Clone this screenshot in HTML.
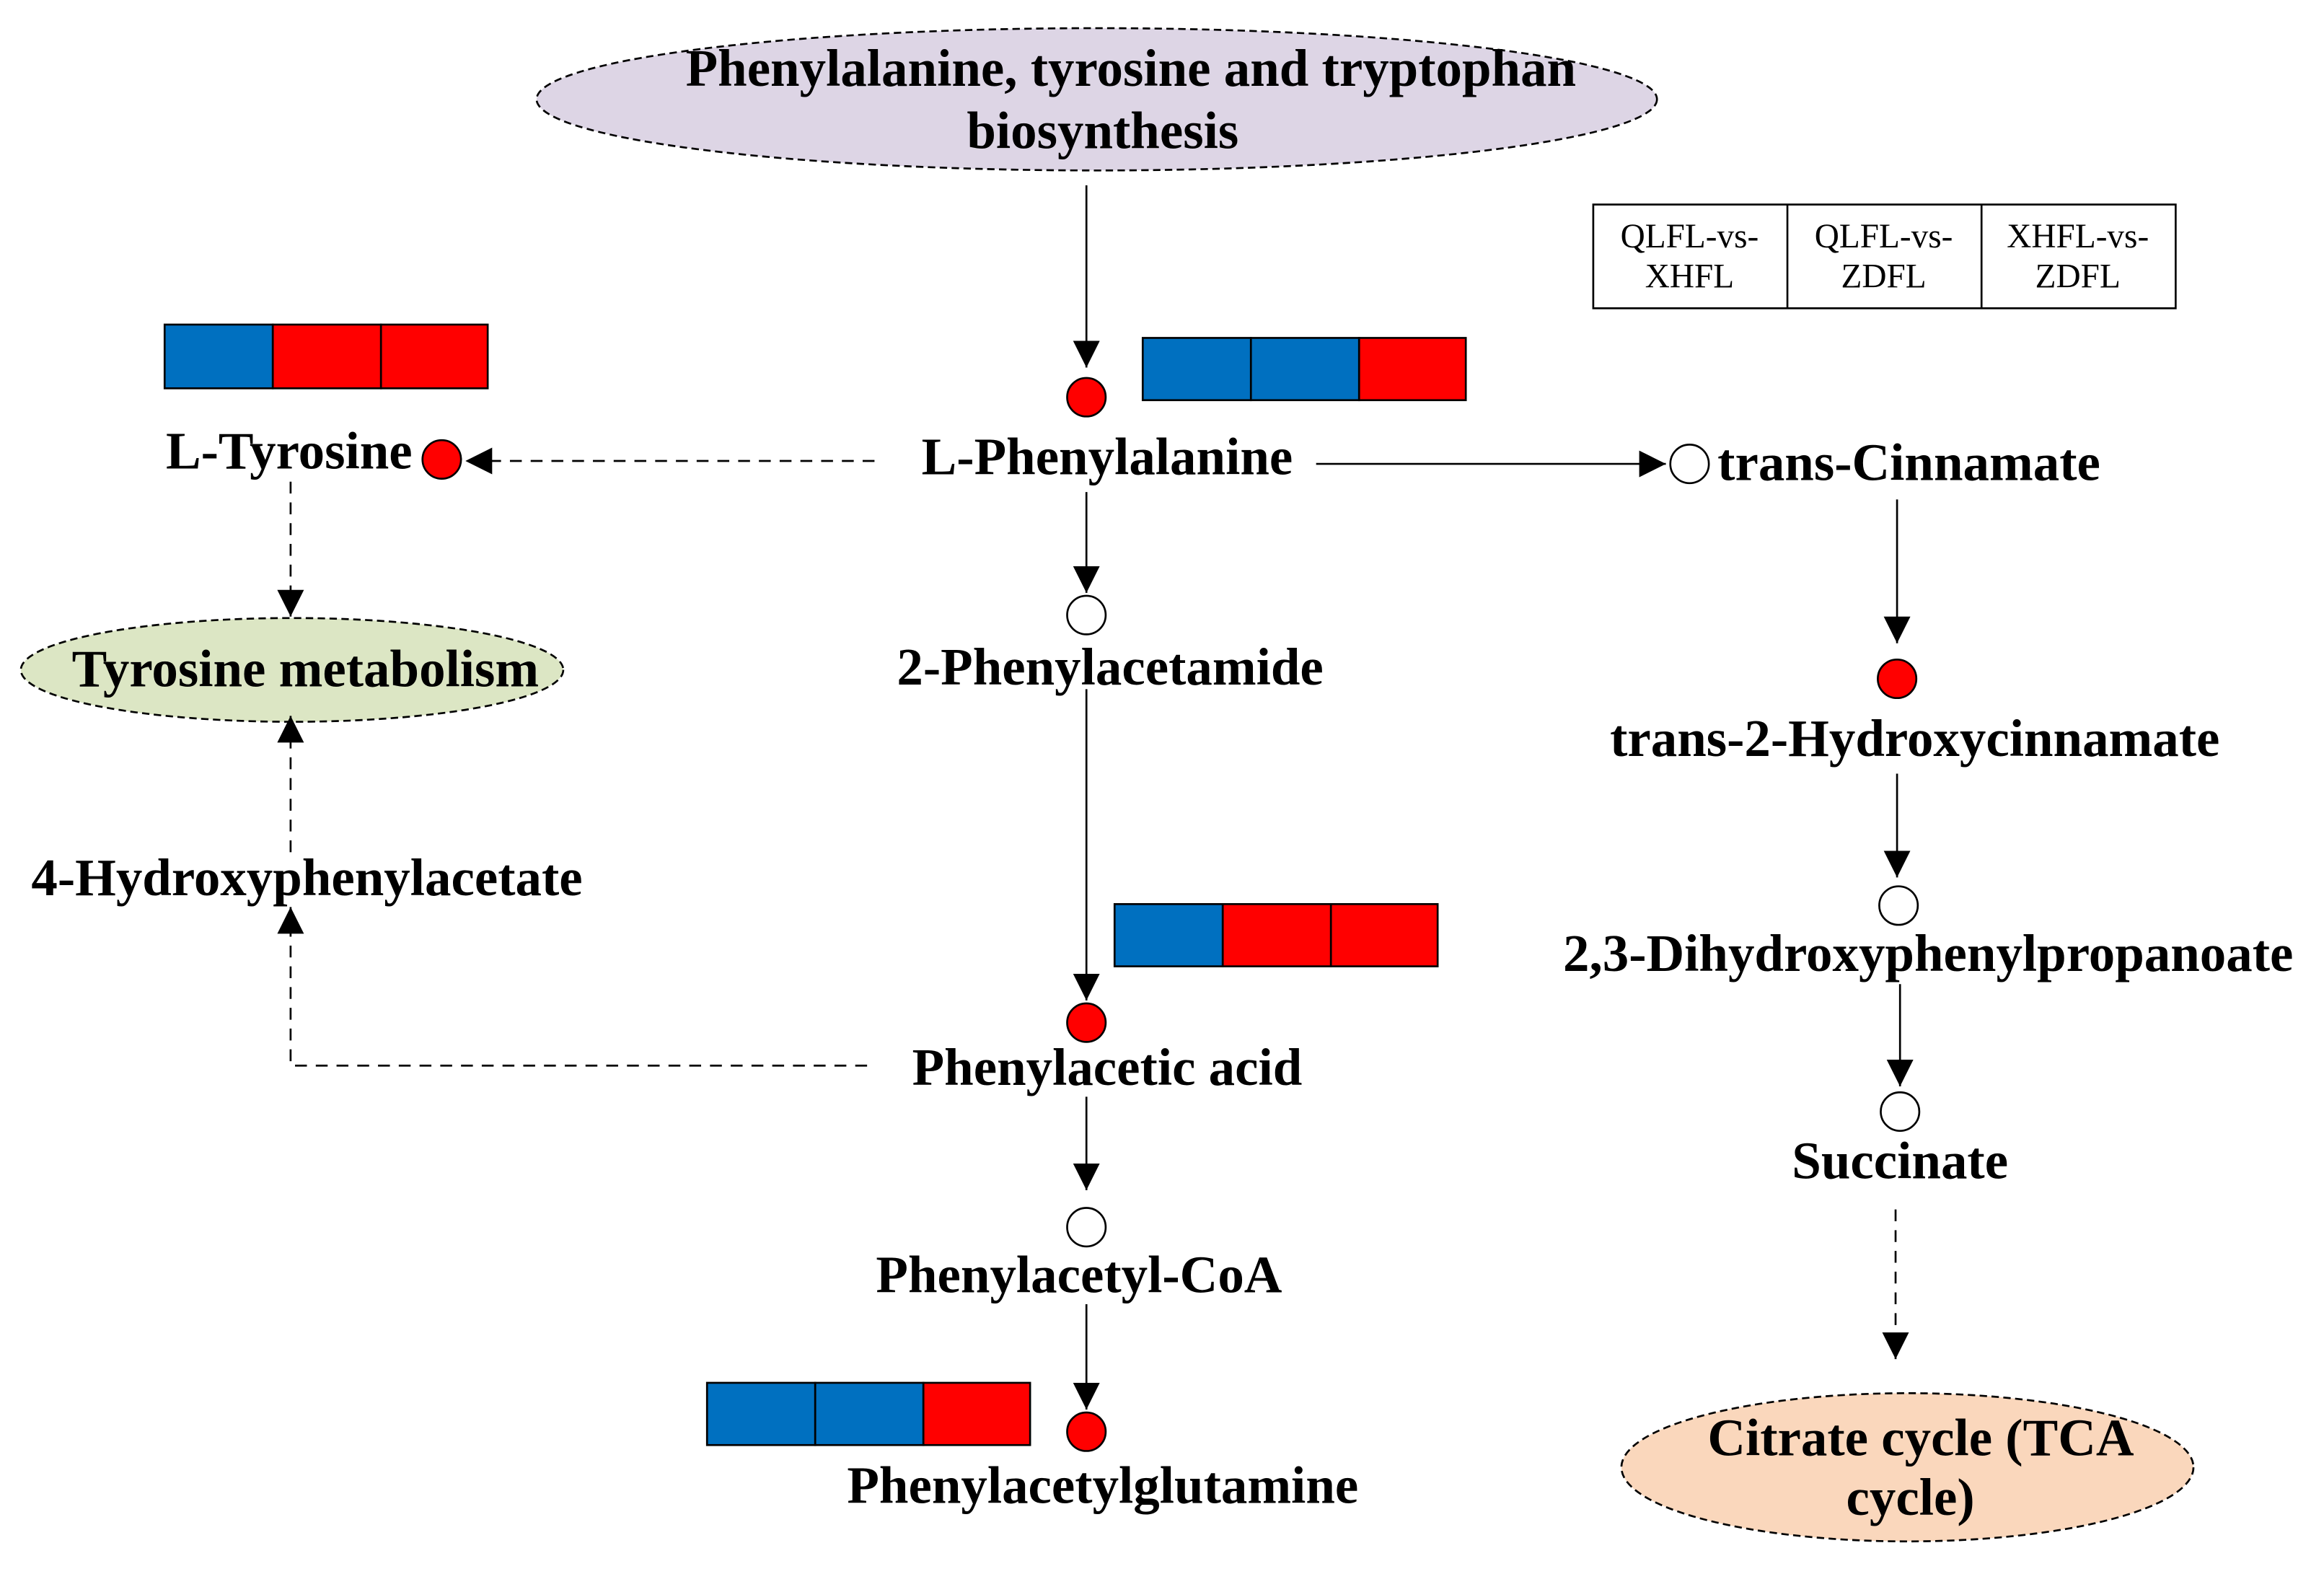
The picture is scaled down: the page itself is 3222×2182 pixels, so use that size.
<!DOCTYPE html>
<html><head><meta charset="utf-8"><style>html,body{margin:0;padding:0;background:#fff}svg{display:block}</style></head>
<body>
<svg width="3222" height="2182" viewBox="0 0 1568 1062" xmlns="http://www.w3.org/2000/svg" font-family="'Liberation Serif', serif">
<defs>
<marker id="a" viewBox="0 0 10 10" refX="10" refY="5" markerWidth="18" markerHeight="18" markerUnits="userSpaceOnUse" orient="auto"><path d="M0,0 L10,5 L0,10 z" fill="#000"/></marker>
</defs>
<g stroke="#000" stroke-width="1.3">
<ellipse cx="740" cy="67" rx="378" ry="48" fill="#ddd5e5" stroke-dasharray="5,3"/>
<ellipse cx="197" cy="452" rx="183" ry="35" fill="#dce6c4" stroke-dasharray="5,3"/>
<ellipse cx="1287" cy="990" rx="193" ry="50" fill="#fad7bc" stroke-dasharray="5,3"/>
<rect x="1075" y="138" width="393" height="70" fill="#fff"/>
<line x1="1206" y1="138" x2="1206" y2="208"/><line x1="1337" y1="138" x2="1337" y2="208"/>
<rect x="771" y="228" width="73" height="42" fill="#0070c0"/><rect x="844" y="228" width="73" height="42" fill="#0070c0"/><rect x="917" y="228" width="72" height="42" fill="#ff0000"/>
<rect x="111" y="219" width="73" height="43" fill="#0070c0"/><rect x="184" y="219" width="73" height="43" fill="#ff0000"/><rect x="257" y="219" width="72" height="43" fill="#ff0000"/>
<rect x="752" y="610" width="73" height="42" fill="#0070c0"/><rect x="825" y="610" width="73" height="42" fill="#ff0000"/><rect x="898" y="610" width="72" height="42" fill="#ff0000"/>
<rect x="477" y="933" width="73" height="42" fill="#0070c0"/><rect x="550" y="933" width="73" height="42" fill="#0070c0"/><rect x="623" y="933" width="72" height="42" fill="#ff0000"/>
<line x1="733" y1="125" x2="733" y2="248" marker-end="url(#a)"/>
<line x1="888" y1="313" x2="1124" y2="313" marker-end="url(#a)"/>
<line x1="733" y1="332" x2="733" y2="400" marker-end="url(#a)"/>
<line x1="733" y1="465" x2="733" y2="675" marker-end="url(#a)"/>
<line x1="733" y1="740" x2="733" y2="803" marker-end="url(#a)"/>
<line x1="733" y1="880" x2="733" y2="951" marker-end="url(#a)"/>
<line x1="1280" y1="337" x2="1280" y2="434" marker-end="url(#a)"/>
<line x1="1280" y1="522" x2="1280" y2="592" marker-end="url(#a)"/>
<line x1="1282" y1="664" x2="1282" y2="733" marker-end="url(#a)"/>
<g stroke-dasharray="8,6" fill="none">
<line x1="590" y1="311" x2="314" y2="311" marker-end="url(#a)"/>
<line x1="196" y1="325" x2="196" y2="416" marker-end="url(#a)"/>
<polyline points="585,719 196,719 196,612" marker-end="url(#a)"/>
<line x1="196" y1="575" x2="196" y2="483" marker-end="url(#a)"/>
<line x1="1279" y1="816" x2="1279" y2="917" marker-end="url(#a)"/>
</g>
<circle cx="733" cy="268" r="13" fill="#ff0000"/>
<circle cx="298" cy="310" r="13" fill="#ff0000"/>
<circle cx="1140" cy="313" r="13" fill="#fff"/>
<circle cx="733" cy="415" r="13" fill="#fff"/>
<circle cx="733" cy="690" r="13" fill="#ff0000"/>
<circle cx="733" cy="828" r="13" fill="#fff"/>
<circle cx="733" cy="966" r="13" fill="#ff0000"/>
<circle cx="1280" cy="458" r="13" fill="#ff0000"/>
<circle cx="1281" cy="611" r="13" fill="#fff"/>
<circle cx="1282" cy="750" r="13" fill="#fff"/>
</g>
<g font-weight="bold" font-size="35.5" text-anchor="middle" fill="#000">
<text x="763" y="58">Phenylalanine, tyrosine and tryptophan</text>
<text x="744" y="100">biosynthesis</text>
<text x="747" y="320">L-Phenylalanine</text>
<text x="195" y="316">L-Tyrosine</text>
<text x="1288" y="324">trans-Cinnamate</text>
<text x="206" y="463">Tyrosine metabolism</text>
<text x="749" y="462">2-Phenylacetamide</text>
<text x="207" y="604">4-Hydroxyphenylacetate</text>
<text x="747" y="732">Phenylacetic acid</text>
<text x="728" y="872">Phenylacetyl-CoA</text>
<text x="744" y="1014">Phenylacetylglutamine</text>
<text x="1292" y="510">trans-2-Hydroxycinnamate</text>
<text x="1301" y="655">2,3-Dihydroxyphenylpropanoate</text>
<text x="1282" y="795">Succinate</text>
<text x="1296" y="982">Citrate cycle (TCA</text>
<text x="1289" y="1022">cycle)</text>
</g>
<g font-size="23" text-anchor="middle" fill="#000">
<text x="1140" y="167">QLFL-vs-</text><text x="1140" y="194">XHFL</text>
<text x="1271" y="167">QLFL-vs-</text><text x="1271" y="194">ZDFL</text>
<text x="1402" y="167">XHFL-vs-</text><text x="1402" y="194">ZDFL</text>
</g>
</svg>
</body></html>
